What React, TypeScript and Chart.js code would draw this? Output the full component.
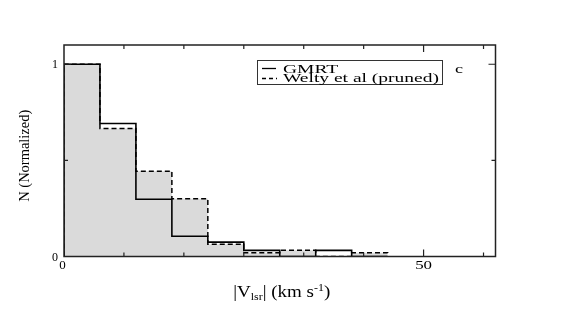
import React, { useEffect, useRef } from 'react';
import { Chart, registerables } from 'chart.js';

Chart.register(...registerables);

// ---- data ----
const binEdges = [0, 5, 10, 15, 20, 25, 30, 35, 40, 45];
const gmrtValues = [1.0, 0.692, 0.298, 0.105, 0.075, 0.032, 0, 0.032, 0];
const weltyValues = [1.0, 0.666, 0.444, 0.3, 0.064, 0.02, 0.032, 0, 0.02];
const xMinorTicks = [50 / 6, 100 / 6, 150 / 6, 200 / 6, 250 / 6, 350 / 6];
const xMajorTicks = [50];
const yMinorTicks = [0.5];
const yMajorTicks = [1];
const xTickLabels = ['0', '50'];
const xTickLabelValues = [0, 50];
const yTickLabels = ['0', '1'];
const yTickLabelValues = [0, 1];
const seriesNames = ['GMRT', 'Welty et al (pruned)'];

function histPoints(values: number[]) {
  const pts = [{ x: binEdges[0], y: 0 }];
  values.forEach((v, i) => pts.push({ x: binEdges[i], y: v }));
  pts.push({ x: binEdges[binEdges.length - 1], y: 0 });
  return pts;
}

const SERIF = '"Liberation Serif", "Times New Roman", serif';

function drawStretched(
  ctx: CanvasRenderingContext2D,
  text: string,
  x: number,
  y: number,
  font: string,
  sx: number,
  align: 'left' | 'center' | 'right'
) {
  ctx.save();
  ctx.font = font;
  ctx.textAlign = 'left';
  ctx.textBaseline = 'alphabetic';
  const w = ctx.measureText(text).width * sx;
  const x0 = align === 'center' ? x - w / 2 : align === 'right' ? x - w : x;
  ctx.translate(x0, y);
  ctx.scale(sx, 1);
  ctx.fillText(text, 0, 0);
  ctx.restore();
}

const decorPlugin = {
  id: 'decor',
  afterDatasetsDraw(chart: any) {
    const { ctx, chartArea: a } = chart;
    const xs = chart.scales.x;
    const ys = chart.scales.y;
    ctx.save();
    // frame
    ctx.strokeStyle = '#222';
    ctx.lineWidth = 1.5;
    ctx.setLineDash([]);
    ctx.strokeRect(a.left, a.top, a.right - a.left, a.bottom - a.top);

    // inward ticks
    ctx.lineWidth = 1.2;
    const xt = (v: number, len: number) => {
      const p = xs.getPixelForValue(v);
      ctx.beginPath();
      ctx.moveTo(p, a.bottom);
      ctx.lineTo(p, a.bottom - len);
      ctx.moveTo(p, a.top);
      ctx.lineTo(p, a.top + len);
      ctx.stroke();
    };
    const yt = (v: number, len: number) => {
      const p = ys.getPixelForValue(v);
      ctx.beginPath();
      ctx.moveTo(a.left, p);
      ctx.lineTo(a.left + len, p);
      ctx.moveTo(a.right, p);
      ctx.lineTo(a.right - len, p);
      ctx.stroke();
    };
    xMinorTicks.forEach((v) => xt(v, 4));
    xMajorTicks.forEach((v) => xt(v, 7));
    yMinorTicks.forEach((v) => yt(v, 4));
    yMajorTicks.forEach((v) => yt(v, 7));

    ctx.fillStyle = '#000';
    // y tick labels
    yTickLabels.forEach((t, i) => {
      const p = ys.getPixelForValue(yTickLabelValues[i]);
      drawStretched(ctx, t, a.left - 6, p + 4, `12px ${SERIF}`, 1.0, 'right');
    });
    // x tick labels
    xTickLabels.forEach((t, i) => {
      const p = xs.getPixelForValue(xTickLabelValues[i]);
      const sx = t.length > 1 ? 1.3 : 1.0;
      const off = i === 0 ? -1.5 : 0;
      drawStretched(ctx, t, p + off, a.bottom + 12, `13px ${SERIF}`, sx, 'center');
    });

    // x axis title: |V_lsr| (km s^-1)
    {
      const main = `16px ${SERIF}`;
      const small = `10px ${SERIF}`;
      const parts: [string, string, number][] = [
        ['|V', main, 0],
        ['lsr', small, 3],
        ['| (km s', main, 0],
        ['-1', small, -6],
        [')', main, 0],
      ];
      let total = 0;
      parts.forEach(([t, f]) => {
        ctx.font = f;
        total += ctx.measureText(t).width;
      });
      const targetW = 97;
      const sx = targetW / total;
      const cx = (a.left + a.right) / 2 + 2;
      let x = cx - targetW / 2;
      const base = 297;
      parts.forEach(([t, f, dy]) => {
        ctx.font = f;
        const w = ctx.measureText(t).width;
        drawStretched(ctx, t, x, base + dy, f, sx, 'left');
        x += w * sx;
      });
    }

    // y axis title (rotated)
    {
      const f = `14px ${SERIF}`;
      ctx.save();
      ctx.font = f;
      const w = ctx.measureText('N (Normalized)').width;
      const sx = 92 / w;
      ctx.translate(25, (a.top + a.bottom) / 2 + 5);
      ctx.rotate(-Math.PI / 2);
      ctx.scale(sx, 1);
      ctx.textAlign = 'center';
      ctx.textBaseline = 'middle';
      ctx.fillText('N (Normalized)', 0, 0);
      ctx.restore();
    }

    // legend
    {
      const bx = 257.5, by = 60.5, bw = 185, bh = 24;
      ctx.strokeStyle = '#333';
      ctx.lineWidth = 1;
      ctx.setLineDash([]);
      ctx.strokeRect(bx, by, bw, bh);
      ctx.strokeStyle = '#000';
      ctx.lineWidth = 1.3;
      ctx.beginPath();
      ctx.moveTo(262, 68.5);
      ctx.lineTo(276, 68.5);
      ctx.stroke();
      ctx.setLineDash([4, 3]);
      ctx.beginPath();
      ctx.moveTo(262, 78.5);
      ctx.lineTo(277, 78.5);
      ctx.stroke();
      ctx.setLineDash([]);
      const f = `13px ${SERIF}`;
      ctx.font = f;
      const sx = 156 / ctx.measureText(seriesNames[1]).width;
      drawStretched(ctx, seriesNames[0], 283, 72.5, f, sx, 'left');
      drawStretched(ctx, seriesNames[1], 283, 82, f, sx, 'left');
      drawStretched(ctx, 'c', 455, 73, f, 1.4, 'left');
    }
    ctx.restore();
  },
};

export default function App() {
  const ref = useRef<HTMLCanvasElement | null>(null);
  useEffect(() => {
    document.body.style.margin = '0';
    const canvas = ref.current!;
    const chart = new Chart(canvas, {
      type: 'line',
      data: {
        datasets: [
          {
            label: seriesNames[0],
            data: histPoints(gmrtValues),
            stepped: true,
            borderColor: '#000',
            borderWidth: 1.6,
            pointRadius: 0,
            fill: false,
          },
          {
            label: seriesNames[1],
            data: histPoints(weltyValues),
            stepped: true,
            borderColor: '#000',
            borderWidth: 1.5,
            borderDash: [5, 3],
            pointRadius: 0,
            fill: 'origin',
            backgroundColor: '#dadada',
          },
        ],
      },
      options: {
        responsive: false,
        animation: false,
        events: [],
        layout: { padding: { left: 64, right: 76.5, top: 45, bottom: 54.5 } },
        scales: {
          x: { type: 'linear', min: 0, max: 60, display: false },
          y: { type: 'linear', min: 0, max: 1.1, display: false },
        },
        plugins: {
          legend: { display: false },
          tooltip: { enabled: false },
          filler: { drawTime: 'beforeDatasetsDraw' },
        },
      } as any,
      plugins: [decorPlugin],
    });
    return () => chart.destroy();
  }, []);
  return (
    <div style={{ width: 572, height: 311, background: '#fff' }}>
      <canvas ref={ref} width={572} height={311} style={{ display: 'block' }} />
    </div>
  );
}
